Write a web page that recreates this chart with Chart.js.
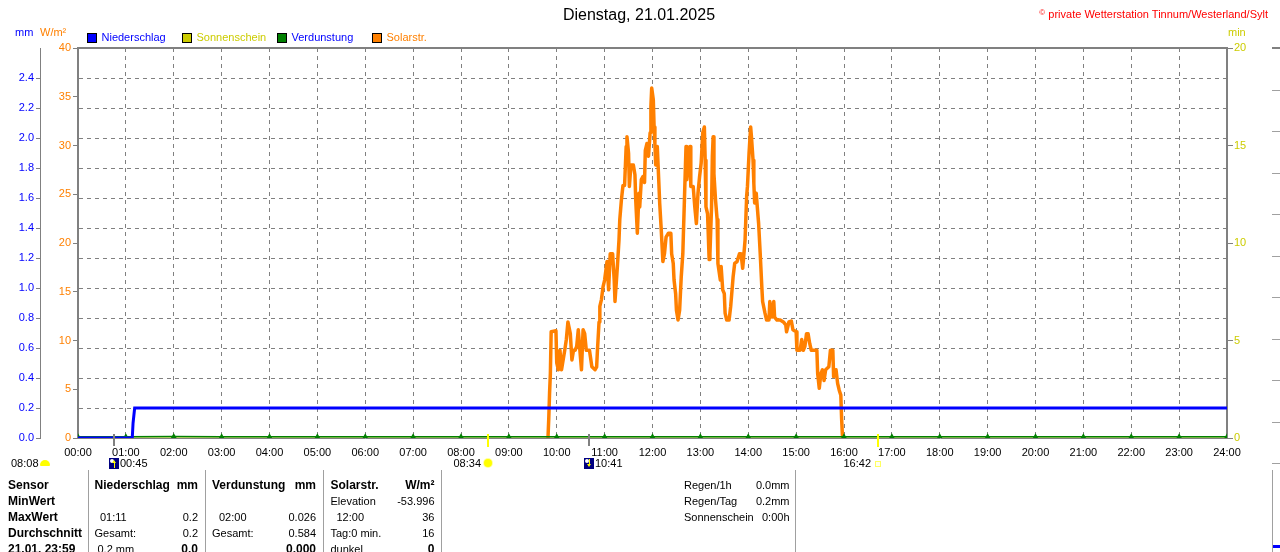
<!DOCTYPE html>
<html lang="de">
<head>
<meta charset="utf-8">
<title>Dienstag, 21.01.2025 - Solarstrahlung</title>
<script src="https://cdn.jsdelivr.net/npm/chart.js@4.4.1/dist/chart.umd.min.js"></script>
<style>
  html, body { margin: 0; padding: 0; background: #fff; }
  #wrap { position: relative; width: 1280px; height: 552px; overflow: hidden;
          font-family: "Liberation Sans", Arial, sans-serif; }
  #wrap canvas { position: absolute; left: 0; top: 0; }
  .t { position: absolute; white-space: nowrap; }
  .sep { position: absolute; top: 470px; height: 82px; width: 1px; background: #a0a0a0; }
  .ico { position: absolute; }
</style>
</head>
<body>
<div id="wrap">
  <canvas id="chart" width="1280" height="552"></canvas>
</div>
<script>
const FONT = '"Liberation Sans", Arial, sans-serif';

// x axis: minutes of the day
const hourTicks = ['00:00','01:00','02:00','03:00','04:00','05:00','06:00','07:00','08:00',
  '09:00','10:00','11:00','12:00','13:00','14:00','15:00','16:00','17:00','18:00','19:00',
  '20:00','21:00','22:00','23:00','24:00'];
const mmTicks = ['0.0','0.2','0.4','0.6','0.8','1.0','1.2','1.4','1.6','1.8','2.0','2.2','2.4'];

// Niederschlag (mm, kumuliert)
const rainMin = [0, 68, 69, 70, 71, 1440];
const rainMm  = [0, 0, 0.1, 0.1, 0.2, 0.2];

// Sonnenschein (min)
const sunMin = [0, 1440];
const sunVal = [0, 0];

// Verdunstung (mm), stuendlich
const evapMin = [0,60,120,180,240,300,360,420,480,540,600,660,720,780,840,900,960,1020,1080,1140,1200,1260,1320,1380,1440];
const evapMm  = [0.008,0.008,0.01,0.008,0.008,0.008,0.008,0.008,0.008,0.008,0.008,0.008,0.008,
                 0.008,0.008,0.008,0.008,0.008,0.008,0.008,0.008,0.008,0.008,0.008,0.008];

// Solarstrahlung (W/m²)
const solarMin = [589,590,591,592,593,599,600,602,604,606,608,610,612,614,617,619,621,623,625,627,
  629,631,633,635,637,641,644,648,650,651,653,654,656,658,660,663,665,667,670,672,673,676,678,679,
  681,683,685,687,688,690,691,693,696,698,699,701,703,704,706,708,710,711,713,715,717,718,719,721,
  722,723,724,726,728,729,731,733,735,737,740,743,744,746,747,749,750,752,754,756,758,759,760,762,
  763,765,767,768,771,773,775,777,779,781,783,785,786,787,789,791,792,794,795,796,797,799,801,802,
  805,806,808,810,811,813,816,818,820,821,823,826,829,831,833,834,836,838,839,841,843,844,846,847,
  848,850,852,853,855,857,858,861,863,866,867,870,872,873,876,880,884,887,888,891,894,896,900,901,
  905,907,909,911,913,915,917,919,926,927,929,931,933,935,937,941,943,946,947,950,952,954,956,957,
  958,959];
const solarW = [0,2.0,4.6,6.6,10.9,11.0,7.7,7.0,9.0,7.0,8.0,9.0,10.1,11.9,10.7,8.0,9.0,9.0,9.4,11.1,
  9.0,7.0,11.1,10.7,9.0,9.0,7.3,7.0,7.3,9.0,11.9,13.5,14.2,15.5,16.2,18.1,15.2,18.9,18.9,16.2,14.0,17.6,20.3,22.4,
  24.4,25.9,25.9,29.9,30.9,29.2,25.8,28.0,28.0,27.0,24.4,21.0,25.1,23.7,26.5,26.8,26.2,29.5,30.2,28.9,31.3,34.0,35.9,34.7,
  31.9,30.2,28.0,29.9,26.1,24.1,21.3,18.1,18.9,20.6,21.0,21.0,18.9,17.9,16.2,14.8,13.1,12.1,13.1,16.5,18.9,21.7,24.4,29.9,
  26.5,28.2,29.9,25.8,25.8,23.7,22.0,25.1,26.8,28.2,31.3,31.9,28.5,23.7,23.0,18.3,18.9,23.7,28.9,30.9,27.1,24.4,22.4,17.9,
  16.2,17.6,15.2,14.8,12.8,12.1,12.1,13.5,15.5,16.5,17.9,18.1,18.9,18.9,17.4,18.3,20.3,24.8,25.8,29.2,31.9,30.9,28.5,26.1,
  24.1,25.1,23.0,22.0,18.9,15.5,14.0,12.8,12.1,12.1,14.0,12.4,14.0,12.4,12.1,12.1,11.9,11.6,10.9,11.9,12.0,11.1,10.9,9.0,
  9.0,10.1,9.0,9.4,10.7,10.7,9.7,9.0,9.0,6.6,5.1,6.6,7.0,5.9,7.0,7.3,9.0,9.0,6.3,7.0,5.6,4.9,4.4,2.0,
  0.3,0];

// Sonne / Mond Auf- und Untergang
const sunEvents  = ['08:34', '16:42'];
const moonEvents = ['00:45', '10:41'];
const dayLength  = '08:08';

const legendText = ['#0000ff', '#cccc00', '#0000ff', '#ff8000'];

const pts = (xs, ys) => xs.map((x, i) => ({ x: x, y: ys[i] }));
const toMin = s => { const p = s.split(':'); return +p[0] * 60 + +p[1]; };

const frame = {
  id: 'frame',
  afterDraw(chart) {
    const { ctx, chartArea: a } = chart;
    const xs = chart.scales.x;
    ctx.save();
    ctx.strokeStyle = '#808080';
    ctx.lineWidth = 2;
    ctx.beginPath();
    ctx.moveTo(a.left - 1, a.top);
    ctx.lineTo(a.right + 1, a.top);
    ctx.stroke();
    ctx.lineWidth = 2;
    sunEvents.forEach(t => {
      const x = Math.round(xs.getPixelForValue(toMin(t)));
      ctx.strokeStyle = '#ffff00';
      ctx.beginPath(); ctx.moveTo(x, a.bottom - 4); ctx.lineTo(x, a.bottom + 9); ctx.stroke();
    });
    moonEvents.forEach(t => {
      const x = Math.round(xs.getPixelForValue(toMin(t)));
      ctx.strokeStyle = '#808080';
      ctx.beginPath(); ctx.moveTo(x, a.bottom - 4); ctx.lineTo(x, a.bottom + 8); ctx.stroke();
    });
    ctx.restore();
  }
};

const chart = new Chart(document.getElementById('chart'), {
  type: 'line',
  data: {
    datasets: [
      { label: 'Niederschlag', data: pts(rainMin, rainMm), yAxisID: 'yMm', order: 0,
        borderColor: '#0000ff', backgroundColor: '#0000ff', borderWidth: 3, pointRadius: 0 },
      { label: 'Sonnenschein', data: pts(sunMin, sunVal), yAxisID: 'yMin', order: 3,
        borderColor: '#cccc00', backgroundColor: '#cccc00', borderWidth: 1, pointRadius: 0 },
      { label: 'Verdunstung', data: pts(evapMin, evapMm), yAxisID: 'yMm', order: 1,
        borderColor: '#008000', backgroundColor: '#008000', borderWidth: 1.5,
        pointStyle: 'triangle', pointRadius: 3.5, pointBorderWidth: 0, pointBackgroundColor: '#008000' },
      { label: 'Solarstr.', data: pts(solarMin, solarW), yAxisID: 'yW', order: 2,
        borderColor: '#ff8000', backgroundColor: '#ff8000', borderWidth: 3.5, pointRadius: 0,
        borderJoinStyle: 'round', borderCapStyle: 'butt' }
    ]
  },
  options: {
    responsive: false,
    animation: false,
    devicePixelRatio: 1,
    events: [],
    layout: { padding: { top: 48, left: 0, right: 0, bottom: 0 } },
    elements: { line: { tension: 0 } },
    plugins: { legend: { display: false }, title: { display: false }, tooltip: { enabled: false } },
    scales: {
      x: {
        type: 'linear', min: 0, max: 1440,
        ticks: { stepSize: 60, autoSkip: false, maxRotation: 0, padding: 8,
                 color: '#000', font: { family: FONT, size: 11 },
                 callback: v => hourTicks[v / 60] },
        grid: { drawTicks: false, lineWidth: 1,
                color: c => (c.index === 0 || c.index === 24) ? 'rgba(0,0,0,0)' : '#808080' },
        border: { color: '#808080', width: 1, dash: [4, 4] },
        afterFit: s => { s.height = 114; }
      },
      yMm: {
        position: 'left', weight: 1, min: 0, max: 2.6,
        ticks: { stepSize: 0.2, padding: 2, color: '#0000ff', font: { family: FONT, size: 11 },
                 callback: (v, i) => mmTicks[i] || '' },
        grid: { tickLength: 4, lineWidth: 1,
                color: c => (c.index === 0 || c.index === 13) ? 'rgba(0,0,0,0)' : '#808080',
                tickColor: c => c.index === 13 ? 'rgba(0,0,0,0)' : '#808080' },
        border: { color: '#808080', width: 1, dash: [4, 4] },
        afterFit: s => { s.width = 40; }
      },
      yW: {
        position: 'left', weight: 0, min: 0, max: 40,
        ticks: { stepSize: 5, padding: 2, color: '#ff8000', font: { family: FONT, size: 11 } },
        grid: { drawOnChartArea: false, tickLength: 5, color: '#808080' },
        border: { color: '#808080', width: 2 },
        afterFit: s => { s.width = 38; }
      },
      yMin: {
        position: 'right', min: 0, max: 20,
        ticks: { stepSize: 5, padding: 1, color: '#cccc00', font: { family: FONT, size: 11 } },
        grid: { drawOnChartArea: false, tickLength: 6, color: '#808080' },
        border: { color: '#808080', width: 2 },
        afterFit: s => { s.width = 53; }
      }
    }
  },
  plugins: [frame]
});

// ---- texts around the chart ----
const wrap = document.getElementById('wrap');
function put(text, x, base, o) {
  o = o || {};
  const size = o.size || 11;
  const el = document.createElement('div');
  el.className = 't';
  el.textContent = text;
  el.style.fontSize = size + 'px';
  el.style.lineHeight = size + 'px';
  el.style.fontWeight = o.bold ? 'bold' : 'normal';
  el.style.color = o.color || '#000';
  el.style.top = (base - 0.8465 * size) + 'px';
  if (o.align === 'right') el.style.right = (1280 - x) + 'px';
  else if (o.align === 'center') { el.style.left = x + 'px'; el.style.transform = 'translateX(-50%)'; }
  else el.style.left = x + 'px';
  wrap.appendChild(el);
  return el;
}
function box(x, y, w, h, css) {
  const el = document.createElement('div');
  el.className = 'ico';
  el.style.left = x + 'px'; el.style.top = y + 'px';
  el.style.width = w + 'px'; el.style.height = h + 'px';
  Object.assign(el.style, css || {});
  wrap.appendChild(el);
  return el;
}

put('Dienstag, 21.01.2025', 639, 20.5, { size: 16, align: 'center' });
const cp = put('', 1268, 16.5, { color: '#ff0000', align: 'right' });
cp.innerHTML = '<span style="font-size:8px;vertical-align:3px">&copy;</span> private Wetterstation Tinnum/Westerland/Sylt';

put('mm', 15, 36.7, { color: '#0000ff' });
put('W/m²', 40, 36.7, { color: '#ff8000' });
put('min', 1228, 36.7, { color: '#cccc00' });

// legend from the datasets
chart.data.datasets.forEach((ds, i) => {
  const x = 87 + i * 95;
  box(x, 33, 8, 8, { background: ds.borderColor, border: '1px solid #000' });
  put(ds.label, x + 14.5, 41.7, { color: legendText[i] });
});

// sunrise / sunset, moonrise / moonset
const xs = chart.scales.x;
put(dayLength, 11, 467.5);
box(40, 460, 10, 6, { background: '#ffff00', borderRadius: '5px 5px 1px 1px' });
sunEvents.forEach((t, i) => {
  const x = Math.round(xs.getPixelForValue(toMin(t)));
  put(t, x - 7, 467.5, { align: 'right' });
  if (i === 0) box(x - 4, 459, 8, 8, { borderRadius: '50%', background: '#ffff00', boxShadow: '0 0 0 1px #ffffa0' });
  else box(x - 3, 461, 4, 4, { border: '1px solid #ffff60', background: '#fffff0' });
});
moonEvents.forEach((t, i) => {
  const x = Math.round(xs.getPixelForValue(toMin(t)));
  const m = box(x - 5, 457.5, 10, 11, { background: '#000080', overflow: 'hidden' });
  m.innerHTML = '<div style="position:absolute;left:1px;top:1px;width:4px;height:4px;border-radius:50%;background:#fff"></div>' +
    (i === 0
      ? '<div style="position:absolute;left:3px;top:2px;border-left:2px solid transparent;border-right:2px solid transparent;border-bottom:3px solid #ffff00"></div><div style="position:absolute;left:4.5px;top:5px;width:1.5px;height:5px;background:#ffff00"></div>'
      : '<div style="position:absolute;left:4.5px;top:1px;width:1.5px;height:5px;background:#ffff00"></div><div style="position:absolute;left:3px;top:6px;border-left:2px solid transparent;border-right:2px solid transparent;border-top:3px solid #ffff00"></div>');
  put(t, x + 6, 467.5);
});

// ---- table below ----
[88, 205, 323, 441, 795, 1272].forEach(x => { const s = box(x, 470, 1, 82); s.className = 'sep'; s.style.left = x + 'px'; });
const B = { bold: true, size: 12 };
const R = { align: 'right' };
const RB = { align: 'right', bold: true, size: 12 };
const rows = [489, 505, 521, 537, 553];
put('Sensor', 8, rows[0], B); put('MinWert', 8, rows[1], B); put('MaxWert', 8, rows[2], B);
put('Durchschnitt', 8, rows[3], B); put('21.01. 23:59', 8, rows[4], B);

put('Niederschlag', 94.5, rows[0], B); put('mm', 198, rows[0], RB);
put('01:11', 100, rows[2]); put('0.2', 198, rows[2], R);
put('Gesamt:', 94.5, rows[3]); put('0.2', 198, rows[3], R);
put('0.2 mm', 97.5, rows[4]); put('0.0', 198, rows[4], RB);

put('Verdunstung', 212, rows[0], B); put('mm', 316, rows[0], RB);
put('02:00', 219, rows[2]); put('0.026', 316, rows[2], R);
put('Gesamt:', 212, rows[3]); put('0.584', 316, rows[3], R);
put('0.000', 316, rows[4], RB);

put('Solarstr.', 330.5, rows[0], B); put('W/m²', 434.5, rows[0], RB);
put('Elevation', 330.5, rows[1]); put('-53.996', 434.5, rows[1], R);
put('12:00', 336.5, rows[2]); put('36', 434.5, rows[2], R);
put('Tag:0 min.', 330.5, rows[3]); put('16', 434.5, rows[3], R);
put('dunkel', 330.5, rows[4]); put('0', 434.5, rows[4], RB);

put('Regen/1h', 684, rows[0]); put('0.0mm', 789.5, rows[0], R);
put('Regen/Tag', 684, rows[1]); put('0.2mm', 789.5, rows[1], R);
put('Sonnenschein', 684, rows[2]); put('0:00h', 789.5, rows[2], R);

// neighbouring chart, cut off at the right edge
box(1272, 47, 8, 2, { background: '#808080' });
box(1272, 49, 8, 420, { background: 'repeating-linear-gradient(to bottom, transparent 0px, transparent 40.5px, #a0a0a0 40.5px, #a0a0a0 41.5px)' });
box(1273, 545, 7, 3, { background: '#0000ff' });
</script>
</body>
</html>
